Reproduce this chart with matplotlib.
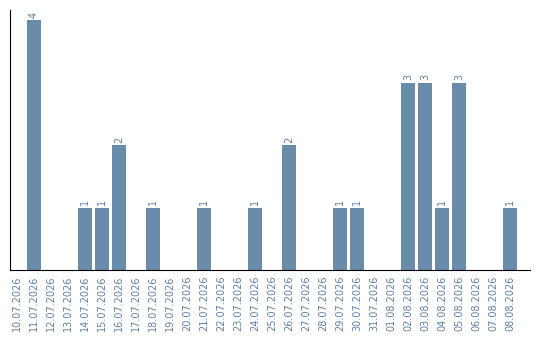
import matplotlib
matplotlib.use('Agg')
import matplotlib.pyplot as plt

dates = ['10.07.2026', '11.07.2026', '12.07.2026', '13.07.2026', '14.07.2026',
         '15.07.2026', '16.07.2026', '17.07.2026', '18.07.2026', '19.07.2026',
         '20.07.2026', '21.07.2026', '22.07.2026', '23.07.2026', '24.07.2026',
         '25.07.2026', '26.07.2026', '27.07.2026', '28.07.2026', '29.07.2026',
         '30.07.2026', '31.07.2026', '01.08.2026', '02.08.2026', '03.08.2026',
         '04.08.2026', '05.08.2026', '06.08.2026', '07.08.2026', '08.08.2026']
counts = [0, 4, 0, 0, 1, 1, 2, 0, 1, 0,
          0, 1, 0, 0, 1, 0, 2, 0, 0, 1,
          1, 0, 0, 3, 3, 1, 3, 0, 0, 1]

bar_col = '#6a8cab'
txt_col = '#5d82a8'

fig = plt.figure(figsize=(5.4, 3.4), dpi=100)
ax = fig.add_axes([10/540, 70/340, 520/540, 260/340])
x = list(range(len(dates)))
ax.bar(x, counts, width=0.82, color=bar_col)
for i, c in enumerate(counts):
    if c > 0:
        ax.text(i, c + 0.04, str(c), rotation=90, ha='center', va='bottom',
                fontsize=7, color=txt_col)
ax.set_xlim(-0.41, 30.18)
ax.set_ylim(0, 4.16)
ax.set_xticks(x)
ax.set_xticklabels(dates, rotation=90, fontsize=7, color=txt_col)
ax.tick_params(axis='x', length=0, pad=4)
ax.set_yticks([])
ax.spines['top'].set_visible(False)
ax.spines['right'].set_visible(False)
fig.savefig('out.png')
